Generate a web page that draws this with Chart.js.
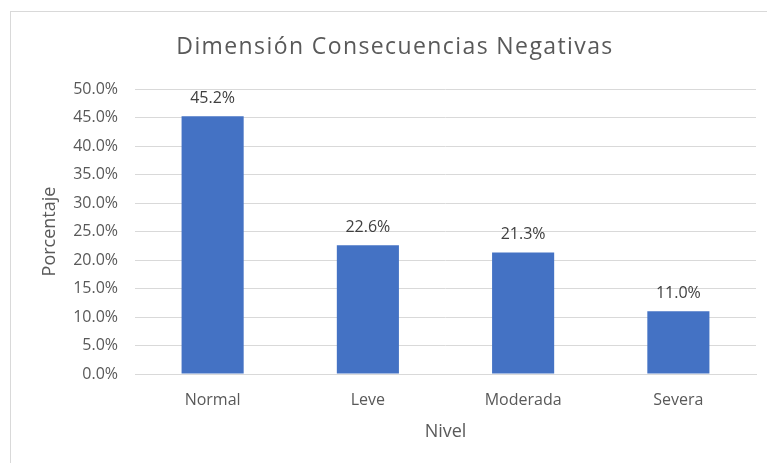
<!DOCTYPE html>
<html>
<head>
<meta charset="utf-8">
<script src="https://cdn.jsdelivr.net/npm/chart.js@4"></script>
<style>
  html, body { margin: 0; padding: 0; background: #fff; }
  .wrap { position: relative; width: 767px; height: 463px; overflow: hidden; }
  .frame { position: absolute; left: 10px; top: 11px; width: 800px; height: 500px; border-left: 1px solid #d9d9d9; border-top: 1px solid #d9d9d9; }
  canvas { position: absolute; left: 0; top: 0; }
</style>
</head>
<body>
<div class="wrap">
  <div class="frame"></div>
  <canvas id="chart" width="767" height="463"></canvas>
</div>
<script>
const niveles = ['Normal', 'Leve', 'Moderada', 'Severa'];
const porcentajes = [45.2, 22.6, 21.3, 11.0];
const chartTitle = 'Dimensión Consecuencias Negativas';

const fontFamily = '"Open Sans", "Noto Sans", sans-serif';
const textColor = '#595959';

// title + value labels drawn on top of the bars
const extrasPlugin = {
    id: 'extras',
    afterDatasetsDraw(chart) {
        const ctx = chart.ctx;
        ctx.save();
        ctx.fillStyle = textColor;
        ctx.font = '23px ' + fontFamily;
        ctx.letterSpacing = '1.4px';
        ctx.textAlign = 'center';
        ctx.textBaseline = 'middle';
        ctx.fillText(chartTitle, 395, 47);
        ctx.letterSpacing = '0px';

        ctx.fillStyle = '#404040';
        ctx.font = '16px ' + fontFamily;
        const meta = chart.getDatasetMeta(0);
        meta.data.forEach((bar, i) => {
            ctx.fillText(porcentajes[i].toFixed(1) + '%', bar.x, bar.y - 18);
        });
        ctx.restore();
    }
};

new Chart(document.getElementById('chart'), {
    type: 'bar',
    data: {
        labels: niveles,
        datasets: [{
            data: porcentajes,
            backgroundColor: '#4472C4',
            categoryPercentage: 1,
            barPercentage: 0.4
        }]
    },
    options: {
        responsive: false,
        animation: false,
        layout: {
            padding: { top: 89, right: 11, left: 0, bottom: 0 }
        },
        plugins: {
            legend: { display: false },
            tooltip: { enabled: false }
        },
        scales: {
            y: {
                min: 0,
                max: 50,
                ticks: {
                    stepSize: 5,
                    padding: 17,
                    color: textColor,
                    font: { family: fontFamily, size: 16 },
                    callback: v => v.toFixed(1) + '%'
                },
                grid: { color: '#d9d9d9', drawTicks: false },
                border: { display: false },
                title: {
                    display: true,
                    text: 'Porcentaje',
                    color: textColor,
                    font: { family: fontFamily, size: 18 },
                    padding: { top: 39, bottom: 0 }
                },
                afterFit: scale => { scale.width = 135; }
            },
            x: {
                ticks: {
                    padding: 17,
                    color: textColor,
                    font: { family: fontFamily, size: 16 }
                },
                grid: { display: false, drawTicks: false },
                border: { color: '#d9d9d9' },
                title: {
                    display: true,
                    text: 'Nivel',
                    color: textColor,
                    font: { family: fontFamily, size: 18 },
                    padding: { top: 0, bottom: 20 }
                },
                afterFit: scale => { scale.height = 89; }
            }
        }
    },
    plugins: [extrasPlugin]
});
</script>
</body>
</html>
